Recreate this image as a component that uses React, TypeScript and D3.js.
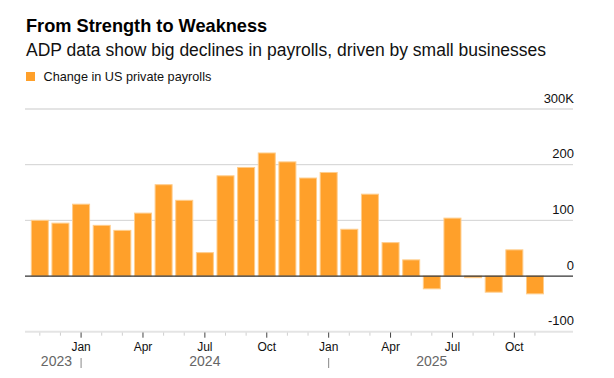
import React from "react";
import * as d3 from "d3";

const months: string[] = [
  "2023-11", "2023-12",
  "2024-01", "2024-02", "2024-03", "2024-04", "2024-05", "2024-06",
  "2024-07", "2024-08", "2024-09", "2024-10", "2024-11", "2024-12",
  "2025-01", "2025-02", "2025-03", "2025-04", "2025-05", "2025-06",
  "2025-07", "2025-08", "2025-09", "2025-10", "2025-11",
];
const payrollChange: number[] = [
  100, 95, 129, 91, 82, 113, 164, 136, 42, 180, 195, 221, 205, 176,
  186, 84, 147, 60, 29, -23, 104, -3, -29, 47, -32,
];
const yTicks: number[] = [-100, 0, 100, 200, 300];
const yTickLabels: string[] = ["-100", "0", "100", "200", "300K"];
const monthNames: string[] = ["Jan", "Feb", "Mar", "Apr", "May", "Jun", "Jul", "Aug", "Sep", "Oct", "Nov", "Dec"];
const years: string[] = ["2023", "2024", "2025"];

const title = "From Strength to Weakness";
const subtitle = "ADP data show big declines in payrolls, driven by small businesses";
const legendLabel = "Change in US private payrolls";

const W = 614;
const H = 378;
const plotLeft = 25;
const plotRight = 573;
const FONT = "'Liberation Sans', Arial, Helvetica, sans-serif";
const ORANGE = "#ffa02a";

export default function App() {
  const x = d3
    .scaleBand<string>()
    .domain(months)
    .range([29.5, 545.3])
    .paddingInner(0.176)
    .paddingOuter(0.088);
  const y = d3.scaleLinear().domain([-100, 300]).range([331.7, 109]);

  const center = (m: string) => (x(m) ?? 0) + x.bandwidth() / 2;
  const monthIdx = (m: string) => parseInt(m.slice(5, 7), 10) - 1;
  const isMajor = (m: string) => monthIdx(m) % 3 === 0;

  const janMonths = months.filter((m) => monthIdx(m) === 0);
  const firstC = center(months[0]);
  const lastC = center(months[months.length - 1]);
  const yearPos: number[] = [
    (firstC + center(janMonths[0])) / 2 - 4,
    (center(janMonths[0]) + center(janMonths[1])) / 2,
    (center(janMonths[1]) + lastC) / 2,
  ];

  return (
    <svg
      width={W}
      height={H}
      style={{ position: "absolute", left: 0, top: 0, background: "#fff" }}
      fontFamily={FONT}
    >
      <text x={26} y={32} fontSize={18.2} fontWeight="bold" fill="#000">
        {title}
      </text>
      <text x={26} y={56} fontSize={17.5} fill="#111">
        {subtitle}
      </text>
      <rect x={26} y={72} width={9} height={9} fill={ORANGE} />
      <text x={43.5} y={80.5} fontSize={12.7} fill="#111">
        {legendLabel}
      </text>

      {/* gridlines */}
      {yTicks.map((t, i) => {
        const edge = i === 0 || i === yTicks.length - 1;
        if (t === 0) return null;
        return (
          <line
            key={"g" + t}
            x1={plotLeft}
            x2={plotRight}
            y1={y(t)}
            y2={y(t)}
            stroke={edge ? "#e4e4e4" : "#d2d2d2"}
            strokeWidth={edge ? 2 : 1}
          />
        );
      })}
      {yTicks.map((t, i) => (
        <text
          key={"yl" + t}
          x={574}
          y={y(t) - 6.5}
          fontSize={13}
          textAnchor="end"
          fill="#111"
        >
          {yTickLabels[i]}
        </text>
      ))}

      {/* bars */}
      {months.map((m, i) => {
        const v = payrollChange[i];
        const y0 = y(0);
        const yv = y(v);
        return (
          <rect
            key={"b" + m}
            x={x(m)}
            y={Math.min(y0, yv)}
            width={x.bandwidth()}
            height={Math.abs(yv - y0)}
            fill={ORANGE}
            stroke="#ffcd8c"
            strokeWidth={1}
          />
        );
      })}

      <line x1={plotLeft} x2={plotRight} y1={y(0)} y2={y(0)} stroke="#333" strokeWidth={1.2} />

      {/* x axis ticks */}
      {months.map((m) => {
        const c = center(m);
        const major = isMajor(m);
        return (
          <line
            key={"t" + m}
            x1={c}
            x2={c}
            y1={332.5}
            y2={major ? 337.7 : 335.7}
            stroke={major ? "#444" : "#cfcfcf"}
            strokeWidth={1}
          />
        );
      })}
      {months.filter(isMajor).map((m) => (
        <text
          key={"ml" + m}
          x={center(m)}
          y={351}
          fontSize={12}
          textAnchor="middle"
          fill="#111"
        >
          {monthNames[monthIdx(m)]}
        </text>
      ))}
      {janMonths.map((m) => (
        <line
          key={"sep" + m}
          x1={center(m)}
          x2={center(m)}
          y1={358}
          y2={368}
          stroke="#888"
          strokeWidth={1}
        />
      ))}
      {years.map((yr, i) => (
        <text
          key={"yr" + yr}
          x={yearPos[i]}
          y={365.5}
          fontSize={14}
          textAnchor="middle"
          fill="#666"
        >
          {yr}
        </text>
      ))}
    </svg>
  );
}
